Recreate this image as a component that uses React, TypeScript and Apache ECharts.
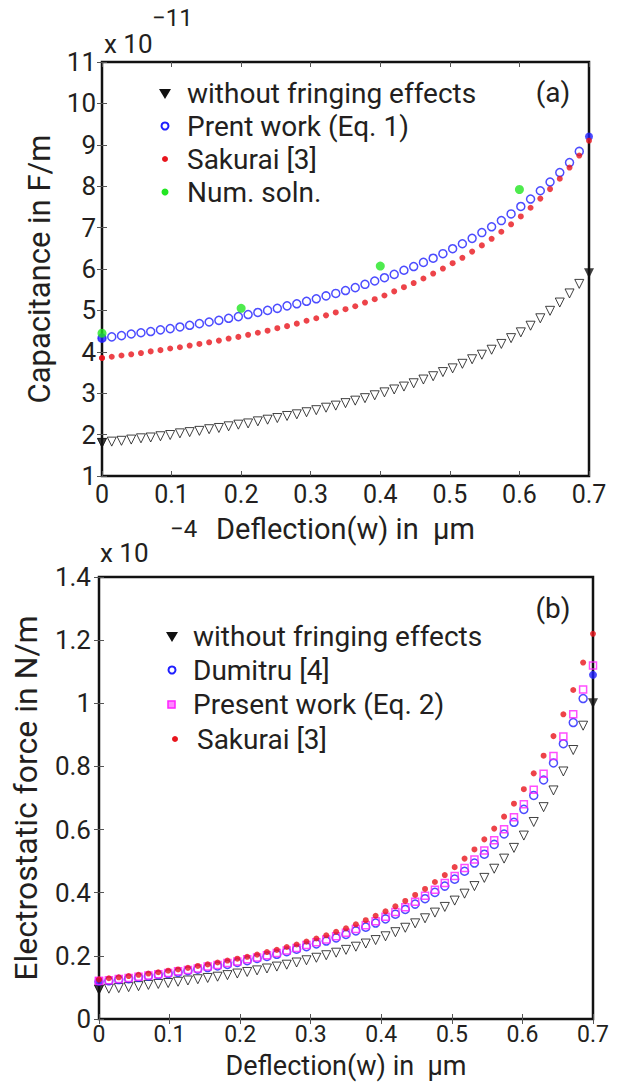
import React, { useEffect, useRef } from "react";
import * as echarts from "echarts";

// Deflection grid (µm)
const deflection = [0, 0.014, 0.028, 0.042, 0.056, 0.07, 0.084, 0.098, 0.112, 0.126, 0.14, 0.154, 0.168, 0.182, 0.196, 0.21, 0.224, 0.238, 0.252, 0.266, 0.28, 0.294, 0.308, 0.322, 0.336, 0.35, 0.364, 0.378, 0.392, 0.406, 0.42, 0.434, 0.448, 0.462, 0.476, 0.49, 0.504, 0.518, 0.532, 0.546, 0.56, 0.574, 0.588, 0.602, 0.616, 0.63, 0.644, 0.658, 0.672, 0.686];
const endDeflection = [0, 0.7];

// (a) Capacitance (x 1e-11 F/m)
const capNoFringe = [1.80, 1.83, 1.85, 1.88, 1.91, 1.93, 1.96, 1.99, 2.03, 2.06, 2.09, 2.13, 2.16, 2.20, 2.24, 2.27, 2.32, 2.36, 2.40, 2.45, 2.49, 2.54, 2.59, 2.65, 2.70, 2.76, 2.82, 2.88, 2.95, 3.02, 3.09, 3.16, 3.24, 3.33, 3.41, 3.51, 3.60, 3.71, 3.82, 3.93, 4.05, 4.19, 4.33, 4.47, 4.63, 4.81, 4.99, 5.19, 5.41, 5.64];
const capPresent = [4.33, 4.36, 4.39, 4.43, 4.46, 4.49, 4.53, 4.56, 4.60, 4.64, 4.68, 4.72, 4.76, 4.81, 4.85, 4.90, 4.95, 5.00, 5.05, 5.11, 5.16, 5.22, 5.28, 5.35, 5.41, 5.48, 5.55, 5.63, 5.71, 5.79, 5.87, 5.97, 6.06, 6.16, 6.26, 6.37, 6.49, 6.61, 6.74, 6.88, 7.02, 7.17, 7.33, 7.51, 7.69, 7.89, 8.10, 8.33, 8.57, 8.84];
const capSakurai = [3.85, 3.88, 3.91, 3.94, 3.97, 4.01, 4.04, 4.08, 4.11, 4.15, 4.19, 4.23, 4.27, 4.32, 4.36, 4.41, 4.46, 4.51, 4.57, 4.62, 4.68, 4.75, 4.81, 4.88, 4.95, 5.03, 5.10, 5.19, 5.27, 5.36, 5.46, 5.56, 5.66, 5.77, 5.89, 6.01, 6.14, 6.27, 6.42, 6.57, 6.73, 6.90, 7.08, 7.27, 7.48, 7.70, 7.93, 8.18, 8.45, 8.74];
const numSolnX = [0, 0.2, 0.4, 0.6];
const numSolnY = [4.45, 5.05, 6.07, 7.92];
const capNoFringeEnds = [1.80, 5.90];
const capPresentEnds = [4.33, 9.20];
const capSakuraiEnds = [3.85, 9.10];

// (b) Electrostatic force (x 1e-4 N/m)
const forceNoFringe = [0.093, 0.096, 0.098, 0.101, 0.104, 0.108, 0.111, 0.114, 0.118, 0.122, 0.126, 0.130, 0.134, 0.139, 0.144, 0.149, 0.154, 0.160, 0.166, 0.172, 0.179, 0.186, 0.194, 0.202, 0.210, 0.219, 0.229, 0.239, 0.250, 0.262, 0.275, 0.289, 0.303, 0.319, 0.337, 0.355, 0.375, 0.397, 0.421, 0.447, 0.476, 0.508, 0.542, 0.581, 0.624, 0.671, 0.724, 0.784, 0.852, 0.929];
const forceDumitru = [0.118, 0.121, 0.125, 0.128, 0.132, 0.136, 0.140, 0.144, 0.148, 0.153, 0.158, 0.163, 0.168, 0.173, 0.179, 0.185, 0.192, 0.198, 0.205, 0.213, 0.221, 0.229, 0.238, 0.247, 0.257, 0.268, 0.279, 0.291, 0.304, 0.317, 0.332, 0.347, 0.364, 0.381, 0.401, 0.421, 0.443, 0.468, 0.494, 0.522, 0.553, 0.586, 0.623, 0.664, 0.708, 0.757, 0.811, 0.872, 0.939, 1.015];
const forcePresent = [0.120, 0.123, 0.127, 0.130, 0.134, 0.138, 0.142, 0.146, 0.151, 0.155, 0.160, 0.166, 0.171, 0.177, 0.182, 0.189, 0.195, 0.202, 0.209, 0.217, 0.225, 0.234, 0.243, 0.252, 0.262, 0.273, 0.285, 0.297, 0.310, 0.324, 0.339, 0.354, 0.371, 0.390, 0.409, 0.431, 0.453, 0.478, 0.505, 0.534, 0.566, 0.601, 0.639, 0.680, 0.726, 0.777, 0.833, 0.895, 0.965, 1.044];
const forceSakurai = [0.125, 0.129, 0.132, 0.136, 0.140, 0.144, 0.148, 0.153, 0.157, 0.162, 0.168, 0.173, 0.179, 0.185, 0.191, 0.197, 0.204, 0.212, 0.219, 0.228, 0.236, 0.245, 0.255, 0.265, 0.276, 0.287, 0.300, 0.313, 0.327, 0.341, 0.357, 0.374, 0.393, 0.412, 0.434, 0.456, 0.481, 0.508, 0.537, 0.569, 0.603, 0.641, 0.682, 0.728, 0.778, 0.834, 0.896, 0.965, 1.042, 1.129];
const forceNoFringeEnds = [0.093, 1.00];
const forceDumitruEnds = [0.118, 1.09];
const forcePresentEnds = [0.120, 1.12];
const forceSakuraiEnds = [0.125, 1.22];

const FONT = "Roboto";
const TXT = "#231f20";
const BLUE = "#1f1fff";
const RED = "#e8141c";
const GREEN = "#22e622";
const MAGENTA = "#ff22ff";
const NONE = "rgba(255,255,255,0)";

const pts = (xs: number[], ys: number[]) => xs.map((x, i) => [x, ys[i]]);

function xAxes(grid: number, labelSize: number, labelMargin: number, nameGap: number, nameSize: number) {
  return [
    {
      type: "value", gridIndex: grid, min: 0, max: 0.7, interval: 0.1,
      name: "Deflection(w) in  \u03bcm", nameLocation: "middle", nameGap,
      nameTextStyle: { fontFamily: FONT, fontSize: nameSize, color: TXT, lineHeight: nameSize },
      axisLine: { show: false }, splitLine: { show: false },
      axisTick: { inside: true, length: 5, lineStyle: { color: "#555" } },
      axisLabel: {
        fontFamily: FONT, fontSize: labelSize, color: TXT, lineHeight: labelSize, margin: labelMargin,
        formatter: (v: number) => String(+v.toFixed(1)),
      },
    },
    {
      type: "value", gridIndex: grid, position: "top", min: 0, max: 0.7, interval: 0.1,
      axisLine: { show: false }, splitLine: { show: false },
      axisTick: { inside: true, length: 5, lineStyle: { color: "#555" } },
      axisLabel: { show: false },
    },
  ];
}

function yAxes(grid: number, min: number, max: number, interval: number, name: string, nameGap: number, labelMargin: number, nameSize: number) {
  return [
    {
      type: "value", gridIndex: grid, min, max, interval,
      name, nameLocation: "middle", nameGap,
      nameTextStyle: { fontFamily: FONT, fontSize: nameSize, color: TXT },
      axisLine: { show: false }, splitLine: { show: false },
      axisTick: { inside: true, length: 5, lineStyle: { color: "#555" } },
      axisLabel: {
        fontFamily: FONT, fontSize: 26, color: TXT, margin: labelMargin,
        formatter: (v: number) => String(+v.toFixed(1)),
      },
    },
    {
      type: "value", gridIndex: grid, position: "right", min, max, interval,
      axisLine: { show: false }, splitLine: { show: false },
      axisTick: { inside: true, length: 5, lineStyle: { color: "#555" } },
      axisLabel: { show: false },
    },
  ];
}

function hollow(name: string, xi: number, yi: number, data: number[][], symbol: string, size: number, color: string, rotate = 0, bw = 1.2) {
  return {
    name, type: "scatter", xAxisIndex: xi, yAxisIndex: yi, data, symbol, symbolSize: size, symbolRotate: rotate,
    itemStyle: { color: NONE, borderColor: color, borderWidth: bw },
  };
}
function filled(name: string, xi: number, yi: number, data: number[][], symbol: string, size: number, color: string, rotate = 0) {
  return {
    name, type: "scatter", xAxisIndex: xi, yAxisIndex: yi, data, symbol, symbolSize: size, symbolRotate: rotate,
    itemStyle: { color },
  };
}

const LEG = 28;
const legendText = (x: number, y: number, text: string) => ({
  type: "text", x, y,
  style: { text, fontFamily: FONT, fontSize: LEG, fill: TXT, textVerticalAlign: "middle", textAlign: "left" },
});
const downTri = (cx: number, cy: number) => ({
  type: "polygon", shape: { points: [[cx - 6, cy - 4], [cx + 6, cy - 4], [cx, cy + 6]] }, style: { fill: "#111" },
});

const option = {
  animation: false,
  backgroundColor: "#fff",
  grid: [
    { left: 102, top: 62, width: 487, height: 414, show: true, borderColor: "#111", borderWidth: 2.5, backgroundColor: "transparent" },
    { left: 99, top: 577, width: 494, height: 442, show: true, borderColor: "#111", borderWidth: 2.5, backgroundColor: "transparent" },
  ],
  xAxis: [...xAxes(0, 25, 6, 38, 29), ...xAxes(1, 23, 4, 33, 27)],
  yAxis: [
    ...yAxes(0, 1, 11, 1, "Capacitance in F/m", 47, 6, 31),
    ...yAxes(1, 0, 1.4, 0.2, "Electrostatic force in N/m", 57, 8, 32),
  ],
  series: [
    hollow("without fringing effects", 0, 0, pts(deflection, capNoFringe), "triangle", 9, "#111", 180, 1),
    hollow("Prent work (Eq. 1)", 0, 0, pts(deflection, capPresent), "circle", 8, BLUE, 0, 1.5),
    filled("Sakurai [3]", 0, 0, pts(deflection, capSakurai), "circle", 6, RED),
    filled("without fringing effects (ends)", 0, 0, pts(endDeflection, capNoFringeEnds), "triangle", 10, "#111", 180),
    filled("Prent work (Eq. 1) (ends)", 0, 0, pts(endDeflection, capPresentEnds), "circle", 8, BLUE),
    filled("Sakurai [3] (ends)", 0, 0, pts(endDeflection, capSakuraiEnds), "circle", 6, RED),
    filled("Num. soln.", 0, 0, pts(numSolnX, numSolnY), "circle", 9, GREEN),

    hollow("without fringing effects", 2, 2, pts(deflection, forceNoFringe), "triangle", 9, "#111", 180, 1),
    hollow("Dumitru [4]", 2, 2, pts(deflection, forceDumitru), "circle", 8, BLUE, 0, 1.5),
    hollow("Present work (Eq. 2)", 2, 2, pts(deflection, forcePresent), "rect", 7, MAGENTA, 0, 1.5),
    filled("Sakurai [3]", 2, 2, pts(deflection, forceSakurai), "circle", 6, RED),
    filled("without fringing effects (ends)", 2, 2, pts(endDeflection, forceNoFringeEnds), "triangle", 10, "#111", 180),
    filled("Dumitru [4] (ends)", 2, 2, pts(endDeflection, forceDumitruEnds), "circle", 8, BLUE),
    hollow("Present work (Eq. 2) (ends)", 2, 2, pts(endDeflection, forcePresentEnds), "rect", 7, MAGENTA, 0, 1.5),
    filled("Sakurai [3] (ends)", 2, 2, pts(endDeflection, forceSakuraiEnds), "circle", 6, RED),
  ],
  graphic: [
    // exponent labels
    { type: "text", x: 104, y: 44, style: { text: "x 10", fontFamily: FONT, fontSize: 26, fill: TXT, textVerticalAlign: "middle" } },
    { type: "text", x: 152, y: 18, style: { text: "\u221211", fontFamily: FONT, fontSize: 24, fill: TXT, textVerticalAlign: "middle" } },
    { type: "text", x: 100, y: 553, style: { text: "x 10", fontFamily: FONT, fontSize: 26, fill: TXT, textVerticalAlign: "middle" } },
    { type: "text", x: 170, y: 529, style: { text: "\u22124", fontFamily: FONT, fontSize: 24, fill: TXT, textVerticalAlign: "middle" } },

    // legend (a)
    downTri(165, 93),
    legendText(187, 93, "without fringing effects"),
    { type: "circle", shape: { cx: 165, cy: 126, r: 3.5 }, style: { fill: NONE, stroke: BLUE, lineWidth: 2 } },
    legendText(187, 126, "Prent work (Eq. 1)"),
    { type: "circle", shape: { cx: 165, cy: 159, r: 3 }, style: { fill: RED } },
    legendText(187, 159, "Sakurai [3]"),
    { type: "circle", shape: { cx: 165, cy: 192, r: 3.5 }, style: { fill: GREEN } },
    legendText(187, 192, "Num. soln."),
    { type: "text", x: 553, y: 92, style: { text: "(a)", fontFamily: FONT, fontSize: 28, fill: TXT, textAlign: "center", textVerticalAlign: "middle" } },

    // legend (b)
    downTri(172, 636),
    legendText(193, 636, "without fringing effects"),
    { type: "circle", shape: { cx: 172, cy: 670, r: 3.5 }, style: { fill: NONE, stroke: BLUE, lineWidth: 2 } },
    legendText(193, 670, "Dumitru [4]"),
    { type: "rect", shape: { x: 168, y: 701, width: 7, height: 7 }, style: { fill: "#ff88ff", stroke: MAGENTA, lineWidth: 1.5 } },
    legendText(193, 704, "Present work (Eq. 2)"),
    { type: "circle", shape: { cx: 175, cy: 739, r: 3 }, style: { fill: RED } },
    legendText(197, 739, "Sakurai [3]"),
    { type: "text", x: 553, y: 608, style: { text: "(b)", fontFamily: FONT, fontSize: 28, fill: TXT, textAlign: "center", textVerticalAlign: "middle" } },
  ],
};

export default function App() {
  const ref = useRef<HTMLDivElement>(null);
  useEffect(() => {
    if (!ref.current) return;
    const chart = echarts.init(ref.current, null, { renderer: "svg" });
    chart.setOption(option as any);
    return () => chart.dispose();
  }, []);
  return (
    <div
      ref={ref}
      style={{ position: "fixed", left: 0, top: 0, width: 635, height: 1084, background: "#fff" }}
    />
  );
}
